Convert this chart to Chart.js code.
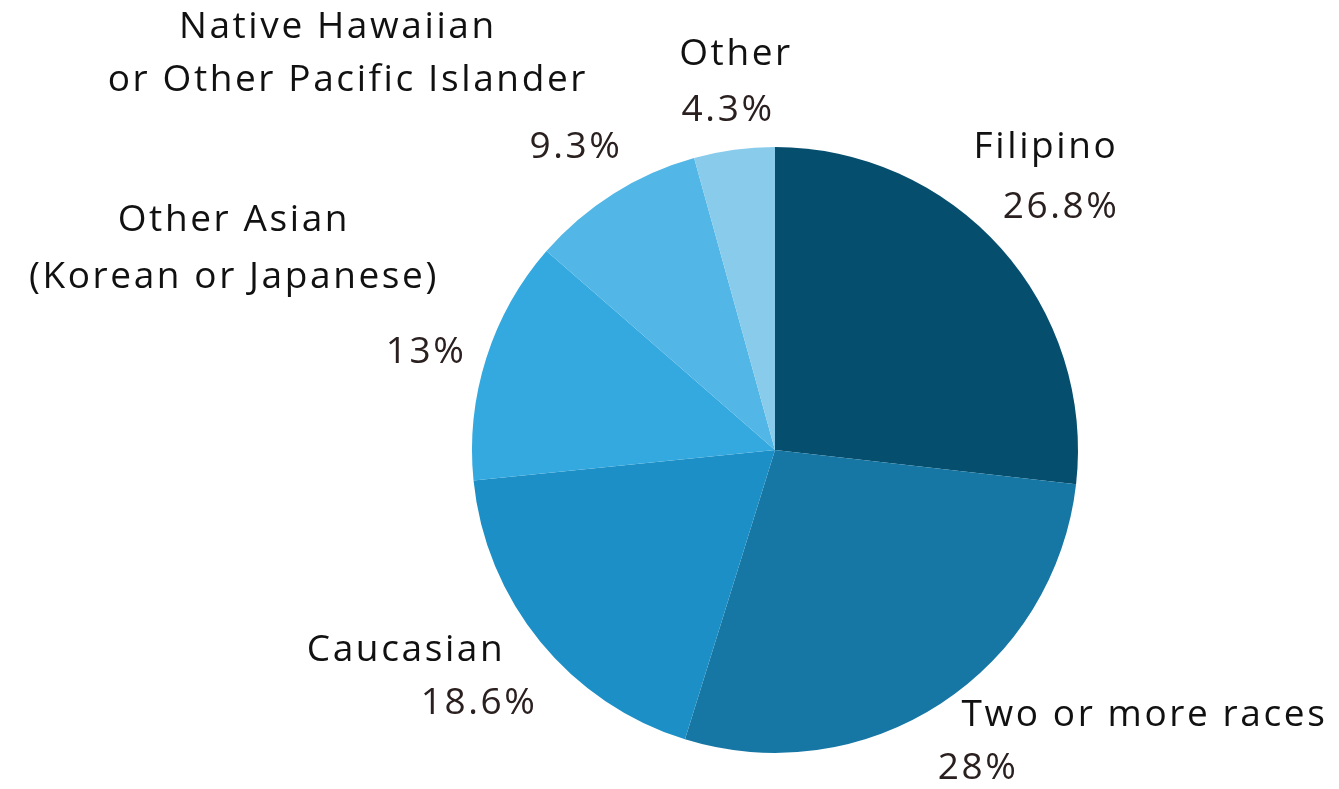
<!DOCTYPE html>
<html lang="en">
<head>
    <meta charset="UTF-8">
    <title>Ethnicity breakdown</title>
    <script src="https://cdn.jsdelivr.net/npm/chart.js"></script>
    <style>
        html, body { margin: 0; padding: 0; background: #ffffff; }
        #wrap { width: 1339px; height: 789px; }
    </style>
</head>
<body>
    <div id="wrap"><canvas id="pieChart" width="1339" height="789"></canvas></div>

    <script>
        const categories = ["Filipino", "Two or more races", "Caucasian", "Other Asian (Korean or Japanese)", "Native Hawaiian or Other Pacific Islander", "Other"];
        const shares = [26.8, 28, 18.6, 13, 9.3, 4.3];
        const shareLabels = ["26.8%", "28%", "18.6%", "13%", "9.3%", "4.3%"];
        const sliceColors = ['#054e6e', '#1677a4', '#1c8fc6', '#34a9df', '#52b6e6', '#88cbeb'];

        // label text lines, placed relative to the pie centre (in radius units)
        const labelLayout = [
            { name: [["Filipino", 0.891, -0.997]], pct: [0.941, -0.802] },
            { name: [["Two or more races", 1.216, 0.875]], pct: [0.667, 1.05] },
            { name: [["Caucasian", -1.221, 0.660]], pct: [-0.980, 0.835] },
            { name: [["Other Asian", -1.789, -0.756], ["(Korean or Japanese)", -1.789, -0.571]], pct: [-1.155, -0.323] },
            { name: [["Native Hawaiian", -1.446, -1.393], ["or Other Pacific Islander", -1.413, -1.221]], pct: [-0.660, -0.997] },
            { name: [["Other", -0.132, -1.304]], pct: [-0.158, -1.119] }
        ];

        const outsideLabels = {
            id: 'outsideLabels',
            afterDatasetsDraw(chart) {
                const ctx = chart.ctx;
                const arc = chart.getDatasetMeta(0).data[0];
                const cx = arc.x, cy = arc.y, r = arc.outerRadius;
                ctx.save();
                ctx.textAlign = 'center';
                ctx.textBaseline = 'middle';
                ctx.font = '37px "Open Sans", sans-serif';
                ctx.letterSpacing = '2.6px';
                labelLayout.forEach((l, i) => {
                    ctx.fillStyle = '#111111';
                    l.name.forEach(n => ctx.fillText(n[0], cx + n[1] * r + 1, cy + n[2] * r));
                    ctx.fillStyle = '#2b2020';
                    ctx.fillText(shareLabels[i], cx + l.pct[0] * r + 1, cy + l.pct[1] * r);
                });
                ctx.restore();
            }
        };

        new Chart(document.getElementById('pieChart'), {
            type: 'pie',
            data: {
                labels: categories,
                datasets: [{
                    data: shares,
                    backgroundColor: sliceColors,
                    borderWidth: 0
                }]
            },
            options: {
                responsive: false,
                animation: false,
                layout: { padding: { left: 472, right: 261, top: 147, bottom: 36 } },
                plugins: {
                    legend: { display: false },
                    tooltip: { enabled: false }
                }
            },
            plugins: [outsideLabels]
        });
    </script>
</body>
</html>
